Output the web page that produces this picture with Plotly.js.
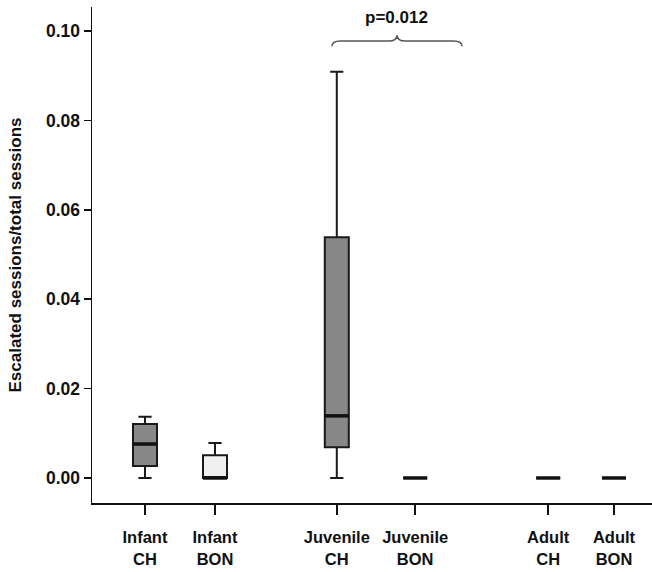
<!DOCTYPE html>
<html>
<head>
<meta charset="utf-8">
<script src="https://cdn.plot.ly/plotly-3.0.1.min.js"></script>
<style>html,body{margin:0;padding:0;background:#fff}#chart{width:652px;height:572px}</style>
</head>
<body>
<div id="chart"></div>
<script>
// Data
var groups      = ["Infant<br>CH", "Infant<br>BON", "Juvenile<br>CH", "Juvenile<br>BON", "Adult<br>CH", "Adult<br>BON"];
var xPos        = [1, 2, 3.74, 4.86, 6.76, 7.7];
var lowerFence  = [0.0, 0.0, 0.0, 0.0, 0.0, 0.0];
var q1Vals      = [0.0027, 0.0, 0.0069, 0.0, 0.0, 0.0];
var medianVals  = [0.0076, 0.0, 0.0139, 0.0, 0.0, 0.0];
var q3Vals      = [0.0121, 0.0051, 0.0539, 0.0, 0.0, 0.0];
var upperFence  = [0.0137, 0.0078, 0.0909, 0.0, 0.0, 0.0];
var site        = ["CH", "BON", "CH", "BON", "CH", "BON"];
var yTicks      = [0.00, 0.02, 0.04, 0.06, 0.08, 0.10];
var pLabel      = "p=0.012";

var boxW = 0.343;
var fills = {CH: "#878787", BON: "#f0f0f0"};
var traces = [];
for (var i = 0; i < groups.length; i++) {
  traces.push({
    type: "box",
    x: [xPos[i]],
    q1: [q1Vals[i]], median: [medianVals[i]], q3: [q3Vals[i]],
    lowerfence: [lowerFence[i]], upperfence: [upperFence[i]],
    width: boxW,
    whiskerwidth: 0.55,
    fillcolor: fills[site[i]],
    line: {color: "#1a1a1a", width: 2},
    boxpoints: false,
    hoverinfo: "skip",
    showlegend: false
  });
}
// thick median bars
var mx = [], my = [];
for (var j = 0; j < groups.length; j++) {
  mx.push(xPos[j] - boxW / 2, xPos[j] + boxW / 2, null);
  my.push(medianVals[j], medianVals[j], null);
}
traces.push({type: "scatter", mode: "lines", x: mx, y: my,
  line: {color: "#111", width: 3.5}, hoverinfo: "skip", showlegend: false, cliponaxis: false});

var fontFam = "Liberation Sans, Arial, sans-serif";
// brace over juvenile pair
var bx0 = 3.671, bx1 = 5.529, bxm = 4.6, by = 0.0978, byEnd = 0.0966, byTip = 0.0991, dx = 0.12;
var brace = "M" + bx0 + "," + byEnd + " Q" + bx0 + "," + by + " " + (bx0 + dx) + "," + by +
  " L" + (bxm - dx) + "," + by + " Q" + bxm + "," + by + " " + bxm + "," + byTip +
  " Q" + bxm + "," + by + " " + (bxm + dx) + "," + by +
  " L" + (bx1 - dx) + "," + by + " Q" + bx1 + "," + by + " " + bx1 + "," + byEnd;

var layout = {
  width: 652, height: 572,
  margin: {l: 92, r: 0, t: 7, b: 69, pad: 0},
  paper_bgcolor: "#fff", plot_bgcolor: "#fff",
  showlegend: false,
  font: {family: fontFam, color: "#111"},
  xaxis: {
    range: [0.243, 8.243],
    tickvals: xPos, ticktext: groups,
    ticks: "outside", ticklen: 10, tickwidth: 1.5, tickcolor: "#111",
    ticklabelstandoff: 9,
    showline: true, linecolor: "#111", linewidth: 1.5,
    showgrid: false, zeroline: false,
    tickfont: {family: fontFam, size: 16.5, weight: "bold", color: "#111"}
  },
  yaxis: {
    range: [-0.0056, 0.1054],
    tickvals: yTicks, tickformat: ".2f",
    ticks: "outside", ticklen: 7, tickwidth: 1.5, tickcolor: "#111",
    showline: true, linecolor: "#111", linewidth: 1.5,
    showgrid: false, zeroline: false,
    tickfont: {family: fontFam, size: 17.5, weight: "bold", color: "#111"},
    title: {text: "Escalated sessions/total sessions", standoff: 20,
      font: {family: fontFam, size: 17, weight: "bold", color: "#111"}}
  },
  shapes: [{type: "path", xref: "x", yref: "y", path: brace,
    line: {color: "#555", width: 1.5}}],
  annotations: [{xref: "x", yref: "y", x: 4.6, y: 0.1030, text: pLabel, showarrow: false,
    font: {family: fontFam, size: 17, weight: "bold", color: "#111"}}]
};
Plotly.newPlot("chart", traces, layout, {displayModeBar: false, staticPlot: true});
</script>
</body>
</html>
